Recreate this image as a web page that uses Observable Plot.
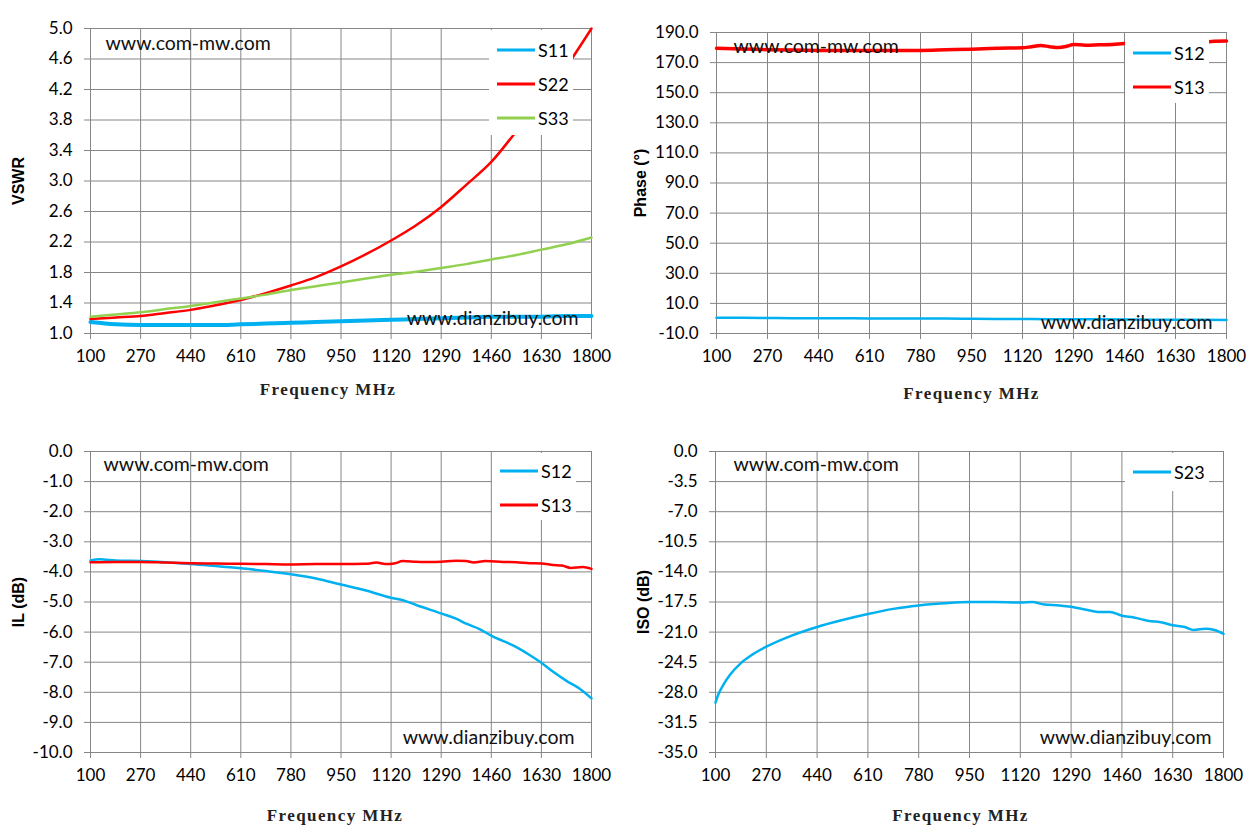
<!DOCTYPE html>
<html>
<head>
<meta charset="utf-8">
<script src="https://cdn.jsdelivr.net/npm/d3@7"></script>
<script src="https://cdn.jsdelivr.net/npm/@observablehq/plot@0.6"></script>
<style>
  body { margin: 0; background: #fff; }
  #wrap { position: relative; width: 1259px; height: 835px; font-family: Lato, sans-serif; }
  .panel { position: absolute; }
  .legend { position: absolute; background: #fff; }
  .legend .row { position: absolute; left: 0; height: 20px; display: flex; align-items: center; }
  .legend span { font-size: 18px; color: #000; margin-left: 3px; }
</style>
</head>
<body>
<div id="wrap"></div>
<script>
const blue = "#00B0F0", red = "#FF0000", green = "#92D050", grid = "#868686";

const xTicks = [100, 270, 440, 610, 780, 950, 1120, 1290, 1460, 1630, 1800];

// VSWR
const vswrFreq = [100, 185, 270, 355, 440, 525, 610, 695, 780, 865, 950, 1035, 1120, 1205, 1290, 1375, 1460, 1545, 1630, 1715, 1800];
const s11Vswr = [1.15, 1.12, 1.11, 1.11, 1.11, 1.11, 1.12, 1.13, 1.14, 1.15, 1.16, 1.17, 1.18, 1.19, 1.20, 1.21, 1.22, 1.22, 1.22, 1.23, 1.23];
const s22Vswr = [1.19, 1.21, 1.23, 1.27, 1.31, 1.37, 1.44, 1.53, 1.63, 1.74, 1.88, 2.04, 2.22, 2.42, 2.66, 2.95, 3.25, 3.65, 4.05, 4.5, 5.0];
const s33Vswr = [1.22, 1.25, 1.28, 1.32, 1.36, 1.41, 1.46, 1.51, 1.57, 1.62, 1.67, 1.72, 1.77, 1.81, 1.86, 1.91, 1.97, 2.03, 2.10, 2.17, 2.26];
const vswrTicks = [1.0, 1.4, 1.8, 2.2, 2.6, 3.0, 3.4, 3.8, 4.2, 4.6, 5.0];

// Phase
const s13PhaseFreq = [100, 185, 270, 355, 440, 525, 610, 695, 780, 865, 950, 1035, 1120, 1150, 1180, 1210, 1240, 1270, 1290, 1330, 1375, 1420, 1460, 1545, 1630, 1715, 1760, 1800];
const s13Phase = [179.5, 179.0, 178.6, 178.3, 178.1, 178.0, 178.0, 178.0, 178.1, 178.5, 178.9, 179.5, 179.8, 180.6, 181.4, 180.6, 180.0, 181.0, 182.0, 181.6, 181.8, 182.0, 182.7, 183.0, 183.3, 183.4, 184.2, 184.3];
const s12Phase = [0.5, 0.4, 0.3, 0.2, 0.2, 0.1, 0.0, 0.0, -0.1, -0.1, -0.2, -0.3, -0.4, -0.5, -0.5, -0.6, -0.7, -0.8, -0.8, -0.9, -1.0];
const phaseTicks = [-10, 10, 30, 50, 70, 90, 110, 130, 150, 170, 190];

// Insertion loss
const s12IlFreq = [100, 130, 185, 270, 355, 440, 525, 610, 695, 780, 865, 950, 1035, 1120, 1160, 1205, 1290, 1340, 1375, 1420, 1460, 1545, 1590, 1630, 1670, 1715, 1760, 1800];
const s12Il = [-3.62, -3.58, -3.62, -3.64, -3.68, -3.74, -3.80, -3.88, -3.97, -4.08, -4.22, -4.42, -4.62, -4.86, -4.94, -5.10, -5.38, -5.55, -5.72, -5.90, -6.12, -6.50, -6.76, -7.02, -7.32, -7.62, -7.88, -8.20];
const s13IlFreq = [100, 185, 270, 355, 440, 525, 610, 695, 780, 865, 950, 1035, 1070, 1100, 1130, 1160, 1205, 1250, 1290, 1340, 1375, 1400, 1440, 1500, 1545, 1590, 1630, 1670, 1700, 1730, 1770, 1800];
const s13Il = [-3.68, -3.67, -3.67, -3.69, -3.71, -3.72, -3.73, -3.74, -3.75, -3.74, -3.74, -3.73, -3.69, -3.74, -3.72, -3.64, -3.66, -3.67, -3.66, -3.63, -3.64, -3.69, -3.64, -3.67, -3.68, -3.71, -3.72, -3.77, -3.79, -3.87, -3.84, -3.90];
const ilTicks = [-10, -9, -8, -7, -6, -5, -4, -3, -2, -1, 0];

// Isolation
const s23IsoFreq = [100, 110, 125, 150, 185, 220, 270, 355, 440, 525, 610, 695, 780, 865, 950, 1035, 1120, 1160, 1200, 1250, 1290, 1340, 1380, 1420, 1460, 1500, 1550, 1590, 1630, 1670, 1700, 1740, 1770, 1800];
const s23Iso = [-29.2, -28.2, -27.2, -25.9, -24.6, -23.7, -22.7, -21.4, -20.4, -19.6, -18.9, -18.3, -17.9, -17.65, -17.5, -17.5, -17.55, -17.5, -17.8, -17.9, -18.05, -18.4, -18.65, -18.65, -19.1, -19.3, -19.7, -19.85, -20.2, -20.4, -20.75, -20.6, -20.75, -21.2];
const isoTicks = [-35, -31.5, -28, -24.5, -21, -17.5, -14, -10.5, -7, -3.5, 0];

const wrap = document.getElementById("wrap");

function panel(p) {
  const div = document.createElement("div");
  div.className = "panel";
  div.style.left = p.left + "px";
  div.style.top = p.top + "px";

  const lines = p.series.map(s => Plot.line(s.freq.map((f, i) => ({f, v: s.values[i]})), {
    x: "f", y: "v", stroke: s.color, strokeWidth: s.width, curve: "monotone-x"
  }));

  const chart = Plot.plot({
    width: p.width,
    height: 415,
    marginLeft: p.ml, marginRight: p.mr, marginTop: p.mt, marginBottom: p.mb,
    x: {domain: [100, 1800]},
    y: {domain: p.yDomain},
    style: {fontFamily: "Lato, sans-serif", fontSize: "17px", color: "#000", background: "#fff"},
    marks: [
      Plot.gridX({ticks: xTicks, stroke: grid, strokeOpacity: 1, strokeWidth: 1}),
      Plot.gridY({ticks: p.yTicks, stroke: grid, strokeOpacity: 1, strokeWidth: 1}),
      ...lines,
      Plot.text(["www.com-mw.com"], {frameAnchor: "top-left", dx: p.wm1[0], dy: p.wm1[1], textAnchor: "start", lineAnchor: "middle", fontSize: 19.5, fill: "#111"}),
      Plot.text(["www.dianzibuy.com"], {frameAnchor: "bottom-right", dx: -p.wm2[0], dy: -p.wm2[1], textAnchor: "end", lineAnchor: "middle", fontSize: 19.5, fill: "#111"}),
      Plot.axisX({ticks: xTicks, tickSize: 6, tickPadding: 10, stroke: grid, fill: "#000", label: null, tickFormat: d => String(d)}),
      Plot.axisY({ticks: p.yTicks, tickSize: 6, tickPadding: 12, stroke: grid, fill: "#000", label: null, tickFormat: d => d.toFixed(1)}),
      Plot.text(["Frequency MHz"], {frameAnchor: "bottom", dy: p.xlDy, dx: p.xlDx, lineAnchor: "middle", fontFamily: "Liberation Serif, DejaVu Serif, serif", fontWeight: "bold", fontSize: 17, fill: "#222"}),
      Plot.text([p.yLabel], {frameAnchor: "left", dx: -p.ylDx, rotate: -90, lineAnchor: "middle", textAnchor: "middle", fontFamily: "Liberation Sans, Arial, sans-serif", fontWeight: "bold", fontSize: 16, fill: "#000"})
    ]
  });
  // wider spacing on the x title, like the original's monospaced face
  d3.select(chart).selectAll("text")
    .filter(function() { return this.textContent === "Frequency MHz"; })
    .attr("letter-spacing", "1.4px");
  div.append(chart);

  const lg = document.createElement("div");
  lg.className = "legend";
  lg.style.left = p.legend.left + "px";
  lg.style.top = p.legend.top + "px";
  lg.style.width = p.legend.w + "px";
  lg.style.height = p.legend.h + "px";
  p.series.forEach((s, i) => {
    const row = document.createElement("div");
    row.className = "row";
    row.style.top = (p.legend.first + i * 34 - 10) + "px";
    row.style.left = "8px";
    row.innerHTML = `<svg width="38" height="4"><line x1="0" x2="38" y1="2" y2="2" stroke="${s.color}" stroke-width="3"/></svg><span>${s.name}</span>`;
    lg.append(row);
  });
  div.append(lg);
  wrap.append(div);
}

panel({
  left: 0, top: 0, width: 620, ml: 90, mr: 29, mt: 28, mb: 82,
  yDomain: [1.0, 5.0], yTicks: vswrTicks, yLabel: "VSWR",
  xlDy: 56, xlDx: -13, ylDx: 72, wm1: [15, 15], wm2: [13, 15],
  legend: {left: 489, top: 30, w: 84, h: 105, first: 20},
  series: [
    {name: "S11", color: blue, width: 4, freq: vswrFreq, values: s11Vswr},
    {name: "S22", color: red, width: 2.5, freq: vswrFreq, values: s22Vswr},
    {name: "S33", color: green, width: 2.5, freq: vswrFreq, values: s33Vswr}
  ]
});

panel({
  left: 620, top: 0, width: 639, ml: 96, mr: 33, mt: 32, mb: 82,
  yDomain: [-10, 190], yTicks: phaseTicks, yLabel: "Phase (°)",
  xlDy: 60, xlDx: 0, ylDx: 76, wm1: [17, 14], wm2: [14, 11],
  legend: {left: 505, top: 33, w: 84, h: 70, first: 20},
  series: [
    {name: "S12", color: blue, width: 2.5, freq: vswrFreq, values: s12Phase},
    {name: "S13", color: red, width: 3.5, freq: s13PhaseFreq, values: s13Phase}
  ]
});

panel({
  left: 0, top: 420, width: 620, ml: 90, mr: 29, mt: 31, mb: 83,
  yDomain: [-10, 0], yTicks: ilTicks, yLabel: "IL (dB)",
  xlDy: 63, xlDx: -6, ylDx: 72, wm1: [13, 13], wm2: [17, 15],
  legend: {left: 492, top: 33, w: 84, h: 67, first: 18},
  series: [
    {name: "S12", color: blue, width: 2.5, freq: s12IlFreq, values: s12Il},
    {name: "S13", color: red, width: 2.5, freq: s13IlFreq, values: s13Il}
  ]
});

panel({
  left: 620, top: 420, width: 639, ml: 95, mr: 36, mt: 31, mb: 83,
  yDomain: [-35, 0], yTicks: isoTicks, yLabel: "ISO (dB)",
  xlDy: 63, xlDx: -9, ylDx: 72, wm1: [18, 13], wm2: [12, 15],
  legend: {left: 505, top: 33, w: 84, h: 38, first: 19},
  series: [
    {name: "S23", color: blue, width: 2.5, freq: s23IsoFreq, values: s23Iso}
  ]
});
</script>
</body>
</html>
